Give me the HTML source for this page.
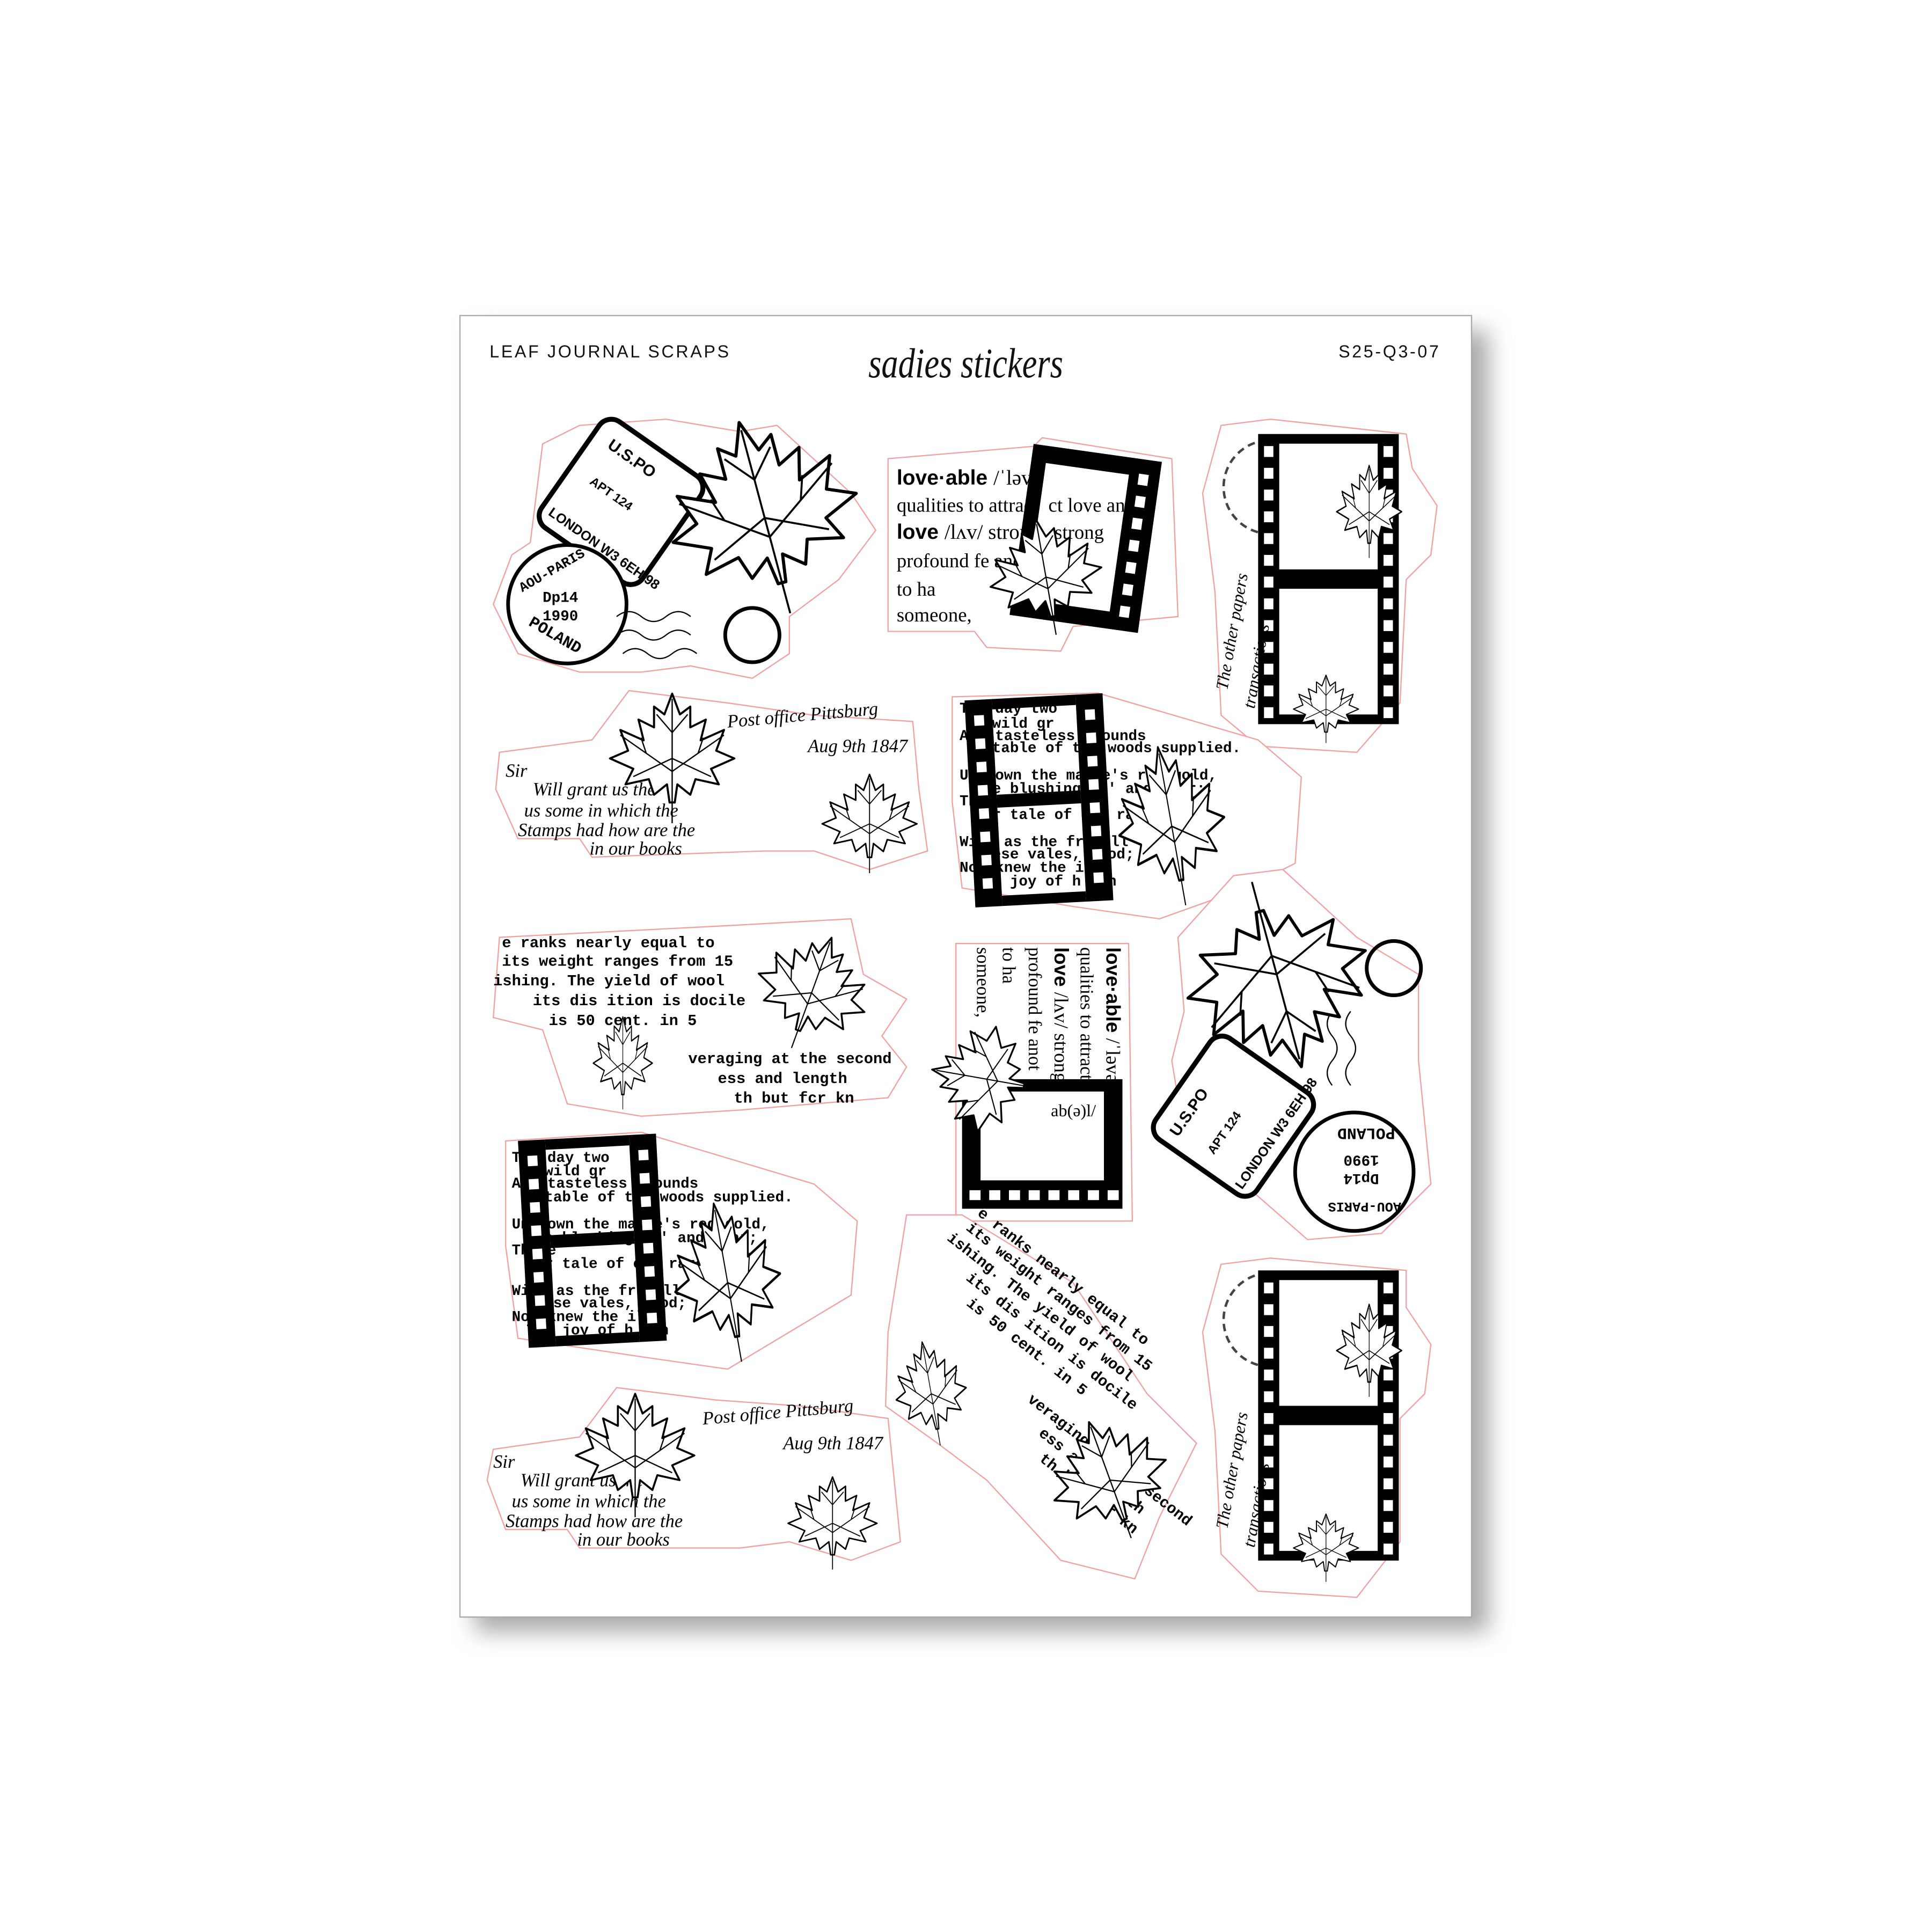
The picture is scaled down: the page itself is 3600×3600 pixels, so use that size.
<!DOCTYPE html>
<html><head><meta charset="utf-8"><style>
html,body{margin:0;padding:0;background:#fff;width:3600px;height:3600px;overflow:hidden}
svg{display:block}
.ser{font-family:"Liberation Serif",serif}
.mono{font-family:"Liberation Mono",monospace;font-weight:bold}
.sans{font-family:"Liberation Sans",sans-serif}
.scr{font-family:"Liberation Serif",serif;font-style:italic}
.cut{fill:#fff;stroke:#f3a0a0;stroke-width:1}
.lf{fill:#fff;stroke:#000;stroke-width:1.6;stroke-linejoin:round}
.vn{fill:none;stroke:#000;stroke-width:1}
</style></head><body>
<svg width="3600" height="3600" viewBox="0 0 1552 1552" xmlns="http://www.w3.org/2000/svg">
<defs>
<filter id="sh" x="-10%" y="-10%" width="130%" height="130%"><feGaussianBlur stdDeviation="9"/></filter>
<g id="leaf">
<path class="lf" d="M0,-50 L6,-34 L14,-40 L14,-24 L26,-30 L22,-14 L40,-22 L34,-6 L48,0 L30,8 L36,20 L18,16 L14,28 L4,20 L2,34 L-2,34 L-4,20 L-14,28 L-18,16 L-36,20 L-30,8 L-48,0 L-34,-6 L-40,-22 L-22,-14 L-26,-30 L-14,-24 L-14,-40 L-6,-34 Z"/>
<path class="vn" d="M0,-46 L0,50 M0,10 L-40,-18 M0,10 L40,-18 M0,0 L-30,14 M0,0 L30,14 M0,-20 L-12,-34 M0,-20 L12,-34 M-20,-4 L-24,-16 M20,-4 L24,-16"/>
</g>
<g id="film">
<rect x="0" y="0" width="120" height="240" fill="#000"/>
<rect x="18" y="8" width="84" height="104" fill="#fff"/>
<rect x="18" y="128" width="84" height="104" fill="#fff"/>
<g fill="#fff">
<rect x="5" y="10" width="8" height="9"/><rect x="5" y="28" width="8" height="9"/><rect x="5" y="46" width="8" height="9"/><rect x="5" y="64" width="8" height="9"/><rect x="5" y="82" width="8" height="9"/><rect x="5" y="100" width="8" height="9"/><rect x="5" y="118" width="8" height="9"/><rect x="5" y="136" width="8" height="9"/><rect x="5" y="154" width="8" height="9"/><rect x="5" y="172" width="8" height="9"/><rect x="5" y="190" width="8" height="9"/><rect x="5" y="208" width="8" height="9"/><rect x="5" y="226" width="8" height="9"/>
<rect x="107" y="10" width="8" height="9"/><rect x="107" y="28" width="8" height="9"/><rect x="107" y="46" width="8" height="9"/><rect x="107" y="64" width="8" height="9"/><rect x="107" y="82" width="8" height="9"/><rect x="107" y="100" width="8" height="9"/><rect x="107" y="118" width="8" height="9"/><rect x="107" y="136" width="8" height="9"/><rect x="107" y="154" width="8" height="9"/><rect x="107" y="172" width="8" height="9"/><rect x="107" y="190" width="8" height="9"/><rect x="107" y="208" width="8" height="9"/><rect x="107" y="226" width="8" height="9"/>
</g>
</g>
<g id="hfilm">
<rect x="0" y="0" width="22" height="160" fill="#000"/>
<rect x="90" y="0" width="22" height="160" fill="#000"/>
<rect x="22" y="0" width="68" height="8" fill="#000"/>
<rect x="22" y="74" width="68" height="10" fill="#000"/>
<rect x="22" y="152" width="68" height="8" fill="#000"/>
<g fill="#fff">
<rect x="7" y="12" width="8" height="8"/><rect x="7" y="30" width="8" height="8"/><rect x="7" y="48" width="8" height="8"/><rect x="7" y="66" width="8" height="8"/><rect x="7" y="84" width="8" height="8"/><rect x="7" y="102" width="8" height="8"/><rect x="7" y="120" width="8" height="8"/><rect x="7" y="138" width="8" height="8"/>
<rect x="97" y="12" width="8" height="8"/><rect x="97" y="30" width="8" height="8"/><rect x="97" y="48" width="8" height="8"/><rect x="97" y="66" width="8" height="8"/><rect x="97" y="84" width="8" height="8"/><rect x="97" y="102" width="8" height="8"/><rect x="97" y="120" width="8" height="8"/><rect x="97" y="138" width="8" height="8"/>
</g>
</g>
</defs>

<g transform="translate(369.5 253.5) scale(0.991) translate(-373 -256)">
<rect x="385" y="268" width="822" height="1055" fill="#aaa" filter="url(#sh)"/>
<rect x="373" y="256" width="820" height="1055" fill="#fff" stroke="#aaa" stroke-width="1"/>

<text x="397" y="290" class="sans" font-size="14" letter-spacing="1.6" fill="#111">LEAF JOURNAL SCRAPS</text>
<text x="783" y="306" class="scr" font-size="34" text-anchor="middle" fill="#111" transform="translate(783 300) scale(0.8 1) translate(-783 -300)">sadies stickers</text>
<text x="1168" y="290" class="sans" font-size="14" letter-spacing="1.6" fill="#111" text-anchor="end">S25-Q3-07</text>

<!-- 1 stamp sticker -->
<path class="cut" d="M440,360 L470,345 L540,340 L600,350 L630,345 L690,400 L710,430 L680,470 L640,500 L640,530 L610,550 L560,540 L520,545 L470,545 L420,530 L400,490 L415,450 L430,440 Z"/>
<g transform="rotate(35 505 405)"><rect x="455" y="355" width="100" height="105" rx="12" fill="#fff" stroke="#000" stroke-width="4"/>
<text x="470" y="378" class="sans" font-weight="bold" font-size="13">U.S.PO</text>
<text x="475" y="410" class="sans" font-weight="bold" font-size="10">APT 124</text>
<text x="462" y="450" class="sans" font-weight="bold" font-size="11">LONDON W3 6EH 98</text></g>
<circle cx="460" cy="490" r="48" fill="#fff" stroke="#000" stroke-width="3"/>
<text x="440" y="488" class="mono" font-size="12">Dp14</text>
<text x="440" y="503" class="mono" font-size="12">1990</text>
<text x="418" y="470" class="mono" font-size="11" transform="rotate(-30 440 465)">AOU-PARIS</text>
<text x="425" y="522" class="mono" font-size="13" transform="rotate(30 455 520)">POLAND</text>
<path class="vn" stroke-width="3" d="M500,500 q10,-8 20,0 t20,0 t20,0 M500,515 q10,-8 20,0 t20,0 t20,0 M505,530 q10,-8 20,0 t20,0 t20,0"/>
<circle cx="610" cy="515" r="22" fill="none" stroke="#000" stroke-width="3"/>
<use href="#leaf" transform="translate(620 420) rotate(-15) scale(1.6)"/>

<!-- 2 dictionary -->
<path class="cut" d="M720,372 L838,362 L845,355 L950,372 L955,500 L870,508 L860,528 L800,525 L790,512 L720,512 Z"/>
<text x="727" y="393" class="sans" font-weight="bold" font-size="17">love·able <tspan font-weight="normal" class="ser">/ˈləvəb(ə)l/</tspan></text>
<text x="727" y="415" class="ser" font-size="16">qualities to attract love an</text>
<text x="727" y="437" class="sans" font-weight="bold" font-size="17">love <tspan font-weight="normal" class="ser">/lʌv/      strong s</tspan></text>
<text x="727" y="460" class="ser" font-size="16">profound fe          anot</text>
<text x="727" y="483" class="ser" font-size="16">to  ha</text>
<text x="727" y="504" class="ser" font-size="16">someone,</text>
<g transform="translate(838 360) rotate(8)"><rect x="0" y="0" width="105" height="140" fill="#000"/></g>
<g transform="translate(838 360) rotate(8)"><rect x="12" y="14" width="68" height="112" fill="#fff"/>
<g fill="#fff"><rect x="88" y="12" width="8" height="9"/><rect x="88" y="30" width="8" height="9"/><rect x="88" y="48" width="8" height="9"/><rect x="88" y="66" width="8" height="9"/><rect x="88" y="84" width="8" height="9"/><rect x="88" y="102" width="8" height="9"/><rect x="88" y="120" width="8" height="9"/></g></g>
<text x="850" y="415" class="ser" font-size="16">ct love an</text>
<text x="855" y="437" class="ser" font-size="16">strong</text>
<use href="#leaf" transform="translate(848 468) rotate(-10) scale(0.95)"/>

<!-- 3 right film -->
<path class="cut" d="M990,345 L1030,340 L1140,352 L1145,380 L1165,410 L1160,450 L1140,470 L1135,570 L1100,610 L1020,605 L990,580 L985,480 L975,400 Z"/>
<circle cx="1030" cy="395" r="38" fill="none" stroke="#444" stroke-width="2" stroke-dasharray="6 4"/>
<text x="1022" y="400" class="mono" font-size="18">5</text>
<use href="#film" transform="translate(1020 352) scale(0.95 0.98)"/>
<use href="#leaf" transform="translate(1110 415) scale(0.55 0.75)"/>
<use href="#leaf" transform="translate(1075 575) scale(0.55 0.55)"/>
<text x="995" y="560" class="scr" font-size="14" transform="rotate(-80 995 560)">The other papers</text>
<text x="1017" y="575" class="scr" font-size="14" transform="rotate(-80 1017 575)">transactions</text>

<!-- 4 handwriting -->
<path class="cut" d="M405,610 L480,600 L510,560 L590,570 L660,580 L740,585 L745,640 L752,690 L705,705 L660,690 L620,690 L480,695 L470,680 L420,680 L402,640 Z"/>
<g class="scr" font-size="15">
<text x="590" y="590" transform="rotate(-5 590 590)">Post office Pittsburg</text>
<text x="655" y="610">Aug 9th 1847</text>
<text x="410" y="630">Sir</text>
<text x="432" y="645">Will                       grant us the</text>
<text x="425" y="662">us some                   in which the</text>
<text x="420" y="678">Stamps had              how are the</text>
<text x="478" y="693">in our books</text></g>
<use href="#leaf" transform="translate(545 615) scale(1.05)"/>
<use href="#leaf" transform="translate(705 668) scale(0.8)"/>

<!-- 5 newspaper -->
<path class="cut" d="M772,565 L890,562 L1020,600 L1055,630 L1050,700 L1010,720 L940,745 L870,735 L780,720 L772,650 Z"/>
<g class="mono" font-size="12">
<text x="778" y="578">The day two</text><text x="790" y="590">e wild gr</text>
<text x="778" y="600">And tasteless grounds</text><text x="790" y="610">e table of the woods supplied.</text>
<text x="778" y="632">Unknown the maple's red   gold,</text><text x="790" y="643">The blushing    ts'       and pear;</text>
<text x="778" y="653">The               e</text><text x="790" y="664">Nor tale of one     rare.</text>
<text x="778" y="686">With as the fr       till</text><text x="790" y="696">These vales,        frod;</text>
<text x="778" y="707">Nor knew the        ill</text><text x="790" y="718">The joy of h        ith</text></g>
<use href="#hfilm" transform="translate(782 568) rotate(-3) scale(1 1.05)"/>
<use href="#leaf" transform="translate(950 670) rotate(-10) scale(0.9 1.3)"/>

<!-- 6 newspaper 2 -->
<path class="cut" d="M405,760 L600,750 L690,745 L700,790 L735,810 L715,840 L735,865 L720,890 L600,900 L520,905 L460,895 L440,835 L400,825 Z"/>
<g class="mono" font-size="12.5">
<text x="407" y="768">e ranks nearly equal to</text>
<text x="407" y="783">its weight ranges from 15</text>
<text x="400" y="799">ishing.  The yield of wool</text>
<text x="432" y="815">its dis  ition is docile</text>
<text x="445" y="831">is 50     cent. in 5</text>
<text x="558" y="862">veraging at the second</text>
<text x="582" y="878">ess and length</text>
<text x="595" y="894">th but fcr kn</text></g>
<use href="#leaf" transform="translate(658 805) rotate(20) scale(0.95)"/>
<use href="#leaf" transform="translate(505 862) scale(0.5 0.75)"/>

<!-- 7 rotated dictionary -->
<path class="cut" d="M775,765 L915,765 L918,990 L775,990 Z"/>
<g transform="rotate(90 845 878)"><g transform="translate(735 808)">
<text x="0" y="18" class="sans" font-weight="bold" font-size="16">love·able <tspan font-weight="normal" class="ser">/ˈləvəb(ə)l/</tspan></text>
<text x="0" y="39" class="ser" font-size="15">qualities to attract love an</text>
<text x="0" y="60" class="sans" font-weight="bold" font-size="16">love <tspan font-weight="normal" class="ser">/lʌv/      strong s</tspan></text>
<text x="0" y="81" class="ser" font-size="15">profound fe          anot</text>
<text x="0" y="102" class="ser" font-size="15">to  ha</text>
<text x="0" y="123" class="ser" font-size="15">someone,</text></g></g>
<rect x="780" y="875" width="130" height="105" fill="#000"/>
<rect x="795" y="885" width="100" height="72" fill="#fff"/>
<g fill="#fff"><rect x="786" y="965" width="9" height="8"/><rect x="802" y="965" width="9" height="8"/><rect x="818" y="965" width="9" height="8"/><rect x="834" y="965" width="9" height="8"/><rect x="850" y="965" width="9" height="8"/><rect x="866" y="965" width="9" height="8"/><rect x="882" y="965" width="9" height="8"/><rect x="898" y="965" width="9" height="8"/></g>
<text x="852" y="905" class="ser" font-size="14">ab(ə)l/</text>
<use href="#leaf" transform="translate(800 875) rotate(-80) scale(0.9)"/>

<!-- 8 stamp rotated -->
<path class="cut" d="M955,760 L1000,710 L1040,705 L1100,760 L1150,790 L1150,860 L1160,960 L1120,1000 L1060,1005 L1020,970 L960,920 L950,860 L960,820 Z"/>
<g transform="rotate(-55 1000 905)"><rect x="950" y="855" width="100" height="100" rx="12" fill="#fff" stroke="#000" stroke-width="4"/>
<text x="960" y="878" class="sans" font-weight="bold" font-size="13">U.S.PO</text>
<text x="965" y="910" class="sans" font-weight="bold" font-size="10">APT 124</text>
<text x="955" y="945" class="sans" font-weight="bold" font-size="11">LONDON W3 6EH 98</text></g>
<circle cx="1098" cy="950" r="48" fill="#fff" stroke="#000" stroke-width="3"/>
<g transform="rotate(180 1098 950)"><text x="1078" y="948" class="mono" font-size="12">Dp14</text>
<text x="1078" y="963" class="mono" font-size="12">1990</text>
<text x="1065" y="985" class="mono" font-size="13">POLAND</text>
<text x="1060" y="925" class="mono" font-size="11">AOU-PARIS</text></g>
<path class="vn" stroke-width="3" d="M1080,820 q-8,10 0,20 t0,20 t0,20 M1095,820 q-8,10 0,20 t0,20 t0,20"/>
<circle cx="1130" cy="785" r="22" fill="none" stroke="#000" stroke-width="3"/>
<use href="#leaf" transform="translate(1035 790) rotate(165) scale(1.55)"/>

<!-- 9 newspaper 3 -->
<path class="cut" d="M410,925 L520,918 L660,960 L695,990 L690,1050 L640,1080 L590,1110 L520,1100 L420,1085 L410,1010 Z"/>
<g class="mono" font-size="12">
<text x="415" y="942">The day two</text><text x="427" y="953">e wild gr</text>
<text x="415" y="963">And tasteless grounds</text><text x="427" y="974">e table of the woods supplied.</text>
<text x="415" y="996">Unknown the maple's red   gold,</text><text x="427" y="1007">The blushing    ts'       and pear;</text>
<text x="415" y="1017">The               e</text><text x="427" y="1028">Nor tale of one     rare.</text>
<text x="415" y="1050">With as the fr       till</text><text x="427" y="1060">These vales,        frod;</text>
<text x="415" y="1071">Nor knew the        ill</text><text x="427" y="1082">The joy of h        ith</text></g>
<use href="#hfilm" transform="translate(420 925) rotate(-3) scale(1 1.05)"/>
<use href="#leaf" transform="translate(590 1040) rotate(-10) scale(0.9 1.3)"/>

<!-- 10 rotated text -->
<path class="cut" d="M735,985 L780,985 L870,1040 L930,1130 L970,1170 L940,1230 L920,1280 L860,1265 L800,1200 L760,1170 L718,1140 L720,1080 Z"/>
<g class="mono" font-size="12.5" transform="rotate(38 800 1080)">
<text x="735" y="1010">e ranks nearly equal to</text>
<text x="735" y="1025">its weight ranges from 15</text>
<text x="728" y="1041">ishing.  The yield of wool</text>
<text x="760" y="1057">its dis  ition is docile</text>
<text x="773" y="1073">is 50     cent. in 5</text>
<text x="860" y="1104">veraging at the second</text>
<text x="884" y="1120">ess and length</text>
<text x="897" y="1136">th but fcr kn</text></g>
<use href="#leaf" transform="translate(755 1130) rotate(-10) scale(0.6 0.85)"/>
<use href="#leaf" transform="translate(900 1200) rotate(-20) scale(1)"/>

<!-- 11 right film 2 -->
<path class="cut" d="M990,1025 L1030,1020 L1140,1030 L1140,1060 L1160,1090 L1155,1130 L1135,1150 L1135,1250 L1100,1295 L1020,1290 L990,1260 L985,1160 L975,1080 Z"/>
<circle cx="1030" cy="1070" r="38" fill="none" stroke="#444" stroke-width="2" stroke-dasharray="6 4"/>
<text x="1022" y="1075" class="mono" font-size="18">5</text>
<use href="#film" transform="translate(1020 1030) scale(0.95 0.98)"/>
<use href="#leaf" transform="translate(1110 1095) scale(0.55 0.75)"/>
<use href="#leaf" transform="translate(1075 1255) scale(0.55 0.55)"/>
<text x="995" y="1240" class="scr" font-size="14" transform="rotate(-80 995 1240)">The other papers</text>
<text x="1017" y="1255" class="scr" font-size="14" transform="rotate(-80 1017 1255)">transactions</text>

<!-- 12 handwriting 2 -->
<path class="cut" d="M400,1175 L470,1165 L500,1125 L580,1135 L650,1140 L720,1150 L725,1200 L730,1250 L690,1265 L640,1250 L600,1255 L470,1255 L460,1240 L410,1240 L395,1200 Z"/>
<g class="scr" font-size="15">
<text x="570" y="1155" transform="rotate(-5 570 1155)">Post office Pittsburg</text>
<text x="635" y="1175">Aug 9th 1847</text>
<text x="400" y="1190">Sir</text>
<text x="422" y="1205">Will                       grant us the</text>
<text x="415" y="1222">us some                   in which the</text>
<text x="410" y="1238">Stamps had              how are the</text>
<text x="468" y="1253">in our books</text></g>
<use href="#leaf" transform="translate(515 1180) scale(1)"/>
<use href="#leaf" transform="translate(675 1235) scale(0.75)"/>
</g>
</svg>
</body></html>
